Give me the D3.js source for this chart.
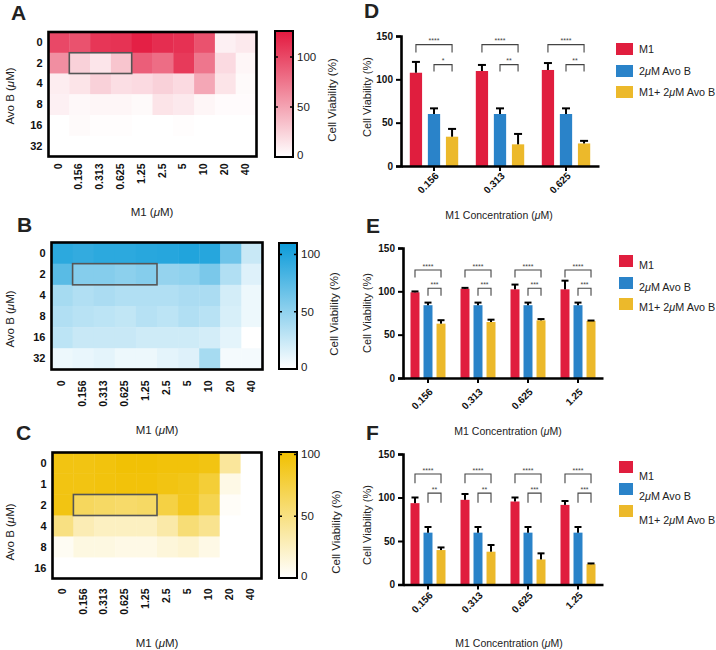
<!DOCTYPE html>
<html><head><meta charset="utf-8">
<script src="https://cdn.jsdelivr.net/npm/d3@7"></script>
<style>body{margin:0;background:#fff} text{font-family:"Liberation Sans",Arial,Helvetica,sans-serif}</style>
</head><body><svg id="c" width="716" height="650"></svg>
<script>
// ---------- DATA ----------
const heatCols = ["0","0.156","0.313","0.625","1.25","2.5","5","10","20","40"];
const rowsA = ["0","2","4","8","16","32"];
const valuesA = [
  [100, 95,110,112,122,115,113, 95,  8, 12],
  [ 62, 25, 14, 32, 88, 80,108, 75, 20,  5],
  [ 10, 15, 25, 18, 20, 25, 20, 48, 15,  3],
  [  8,  4,  5,  5,  3, 15, 12,  5,  2,  2],
  [  0,  3,  1,  1,  0,  0,  1,  0,  0,  0],
  [  0,  0,  0,  0,  0,  0,  0,  0,  0,  0]
];
const rowsB = ["0","2","4","8","16","32"];
const valuesB = [
  [ 95, 92, 95, 95, 97, 98,100, 98, 65, 25],
  [ 75, 55, 55, 52, 55, 48, 50, 60, 35, 15],
  [ 40, 35, 38, 35, 35, 35, 38, 38, 20,  8],
  [ 35, 32, 30, 28, 33, 30, 35, 32, 18,  8],
  [ 30, 25, 25, 25, 22, 22, 22, 20, 12,  0],
  [  8, 10, 12,  8,  8, 12, 15, 40,  5,  5]
];
const rowsC = ["0","1","2","4","8","16"];
const valuesC = [
  [ 95, 95, 97,100,100, 98, 98, 95, 40,  0],
  [ 95, 95, 97, 98, 98, 95, 92, 80, 10,  0],
  [ 95, 65, 62, 60, 62, 75, 90, 70,  3,  0],
  [ 50, 30, 25, 25, 25, 35, 55, 45,  0,  0],
  [  5, 12, 12, 10, 10, 15, 18, 10,  0,  0],
  [  0,  0,  0,  0,  0,  0,  0,  0,  0,  0]
];

const seriesNames = ["M1", "2\u03BCM Avo B", "M1+ 2\u03BCM Avo B"];
const barTicks = [0, 50, 100, 150];

const groupsD = ["0.156","0.313","0.625"];
const dM1 = [107.6,109.6,110.8],  dM1Err = [12.5,7,8];
const dAvo = [60,60,60],          dAvoErr = [6.5,6.5,6.5];
const dCombo = [33.8,25,26],      dComboErr = [9,12,3];
const dSigBig = ["****","****","****"], dSigSmall = ["*","**","**"];

const groupsE = ["0.156","0.313","0.625","1.25"];
const eM1 = [98.9,103,102.3,102.3], eM1Err = [1,1,5.5,10];
const eAvo = [84,84,84,84],         eAvoErr = [3,3,3,3];
const eCombo = [62.7,64.6,66.5,65.8], eComboErr = [4,2.7,1.5,0.5];
const eSigBig = ["****","****","****","****"], eSigSmall = ["***","***","***","***"];

const groupsF = ["0.156","0.313","0.625","1.25"];
const fM1 = [93.5,97.3,95.4,91.5],  fM1Err = [6.5,6.7,4.6,4.5];
const fAvo = [59.6,59.6,59.6,59.6], fAvoErr = [6.5,6.5,6.5,6.5];
const fCombo = [39.6,37.7,28.8,23.4], fComboErr = [3,7.7,7,0.8];
const fSigBig = ["****","****","****","****"], fSigSmall = ["**","**","***","***"];

const barColors = ["#E01E3E", "#2A83C9", "#ECB92B"];

// ---------- DRAW ----------
const svg = d3.select("#c");
const defs = svg.append("defs");

function mu(sel, before, after){
  sel.append("tspan").text(before);
  sel.append("tspan").attr("font-style","italic").text("\u03BC");
  sel.append("tspan").text(after);
}

function heat(cfg){
  const g = svg.append("g");
  const x = d3.scaleBand().domain(heatCols).range([cfg.x0,cfg.x1]);
  const y = d3.scaleBand().domain(cfg.rows).range([cfg.y0,cfg.y1]);
  const color = d3.scaleLinear().domain([0,cfg.max]).range(["#ffffff",cfg.hue]).clamp(true);
  cfg.rows.forEach((r,i)=>heatCols.forEach((c,j)=>{
    g.append("rect").attr("x",x(c)).attr("y",y(r))
      .attr("width",x.bandwidth()+0.4).attr("height",y.bandwidth()+0.4)
      .attr("fill",color(cfg.values[i][j]));
  }));
  const h = cfg.hl;
  g.append("rect").attr("x",x(heatCols[h[1]])).attr("y",y(cfg.rows[h[0]]))
    .attr("width",x(heatCols[h[2]])+x.bandwidth()-x(heatCols[h[1]]))
    .attr("height",y.bandwidth()).attr("fill","none").attr("stroke","#555").attr("stroke-width",1.6);
  g.append("rect").attr("x",cfg.x0).attr("y",cfg.y0).attr("width",cfg.x1-cfg.x0).attr("height",cfg.y1-cfg.y0)
    .attr("fill","none").attr("stroke","#000").attr("stroke-width",2.6);
  const ya = d3.axisLeft(y).tickSize(0).tickPadding(6);
  const yg = g.append("g").attr("transform",`translate(${cfg.x0},0)`).call(ya);
  yg.select(".domain").remove();
  yg.selectAll("text").attr("font-size",11).attr("font-weight","bold").attr("fill","#111")
    .style("font-family",'"Liberation Sans",Arial,sans-serif');
  heatCols.forEach(c=>{
    g.append("text").attr("transform",`translate(${x(c)+x.bandwidth()/2-1},${cfg.y1+cfg.colOff}) rotate(-90)`)
      .attr("text-anchor","end").attr("dy","0.35em").attr("font-size",10.5).attr("font-weight","bold")
      .attr("fill","#111").text(c);
  });
  const t1 = g.append("text").attr("x",cfg.m1x).attr("y",cfg.m1y).attr("text-anchor","middle")
    .attr("dy","0.35em").attr("font-size",11.5).attr("fill","#222");
  mu(t1,"M1 (","M)");
  const t2 = g.append("text").attr("transform",`translate(${cfg.avx},${cfg.avy}) rotate(-90)`)
    .attr("text-anchor","middle").attr("dy","0.35em").attr("font-size",11.5).attr("fill","#222");
  mu(t2,"Avo B (","M)");
  const cb = cfg.cb;
  const gid = "grad"+cfg.letter;
  const lg = defs.append("linearGradient").attr("id",gid).attr("x1",0).attr("y1",1).attr("x2",0).attr("y2",0);
  lg.append("stop").attr("offset",0).attr("stop-color","#ffffff");
  lg.append("stop").attr("offset",1).attr("stop-color",color(cfg.max));
  g.append("rect").attr("x",cb[0]).attr("y",cb[1]).attr("width",cb[2]-cb[0]).attr("height",cb[3]-cb[1])
    .attr("fill",`url(#${gid})`).attr("stroke","#000").attr("stroke-width",2);
  const cs = d3.scaleLinear().domain([0,cfg.max]).range([cb[3],cb[1]]);
  [50,100].forEach(v=>{
    g.append("line").attr("x1",cb[0]).attr("x2",cb[0]+3).attr("y1",cs(v)).attr("y2",cs(v)).attr("stroke","#000").attr("stroke-width",1.5);
    g.append("line").attr("x1",cb[2]-3).attr("x2",cb[2]+1).attr("y1",cs(v)).attr("y2",cs(v)).attr("stroke","#000").attr("stroke-width",1.5);
  });
  [0,50,100].forEach(v=>{
    g.append("text").attr("x",cb[2]+4).attr("y",v===0?cb[3]-2:cs(v)).attr("dy","0.35em")
      .attr("font-size",11.5).attr("fill","#222").text(v);
  });
  g.append("text").attr("transform",`translate(${cfg.ctx},${cfg.cty}) rotate(-90)`)
    .attr("text-anchor","middle").attr("dy","0.35em").attr("font-size",11.5).attr("fill","#222")
    .text("Cell Viability (%)");
  g.append("text").attr("x",cfg.lx).attr("y",cfg.ly).attr("font-size",21).attr("font-weight","bold")
    .attr("fill","#222").text(cfg.letter);
}

heat({letter:"A", rows:rowsA, values:valuesA, max:126, hue:"#E3193F",
  x0:48.5, x1:256.5, y0:32, y1:156.5, hl:[1,1,3], colOff:7,
  cb:[275,31,293,157], m1x:152, m1y:212, avx:10, avy:96, ctx:332, cty:100, lx:11, ly:20});
heat({letter:"B", rows:rowsB, values:valuesB, max:110, hue:"#0B9BD9",
  x0:51.5, x1:262.5, y0:242.5, y1:369.5, hl:[1,1,4], colOff:11,
  cb:[279,243,297,369], m1x:157, m1y:430, avx:10, avy:319, ctx:334, cty:314, lx:17, ly:232});
heat({letter:"C", rows:rowsC, values:valuesC, max:102, hue:"#F1C000",
  x0:52.5, x1:261.5, y0:452.5, y1:578.5, hl:[2,1,4], colOff:10,
  cb:[279,452,297,578], m1x:157, m1y:643, avx:10, avy:532, ctx:336, cty:532, lx:16, ly:440});

function bars(cfg){
  const g = svg.append("g");
  const x = d3.scaleBand().domain(cfg.groups).range([cfg.x0,cfg.x1]);
  const bw = x.bandwidth();
  const xs = d3.scaleBand().domain(seriesNames).range([(bw-cfg.span)/2,(bw+cfg.span)/2]).paddingInner(cfg.pad);
  const y = d3.scaleLinear().domain([0,150]).range([cfg.y0,cfg.y150]);
  const vals = [cfg.m1, cfg.avo, cfg.combo], errs = [cfg.m1e, cfg.avoe, cfg.comboe];
  cfg.groups.forEach((grp,i)=>{
    seriesNames.forEach((s,k)=>{
      const bx = x(grp)+xs(s), v = vals[k][i], e = errs[k][i];
      g.append("rect").attr("x",bx).attr("y",y(v)).attr("width",xs.bandwidth()).attr("height",y(0)-y(v))
        .attr("fill",barColors[k]);
      const cx = bx+xs.bandwidth()/2;
      g.append("line").attr("x1",cx).attr("x2",cx).attr("y1",y(v)).attr("y2",y(v+e)).attr("stroke","#000").attr("stroke-width",2);
      g.append("line").attr("x1",cx-cfg.cap).attr("x2",cx+cfg.cap).attr("y1",y(v+e)).attr("y2",y(v+e)).attr("stroke","#000").attr("stroke-width",2);
    });
    const c0 = x(grp)+xs(seriesNames[0])+xs.bandwidth()/2;
    const c1 = x(grp)+xs(seriesNames[1])+xs.bandwidth()/2;
    const c2 = x(grp)+xs(seriesNames[2])+xs.bandwidth()/2;
    [[c0,c2,cfg.big,cfg.sigBig[i]],[c1,c2,cfg.small,cfg.sigSmall[i]]].forEach(([a,b,lv,s])=>{
      g.append("path").attr("d",`M${a},${y(lv[1])}V${y(lv[0])}H${b}V${y(lv[1])}`)
        .attr("fill","none").attr("stroke","#444").attr("stroke-width",1.1);
      g.append("text").attr("x",(a+b)/2).attr("y",y(lv[0])-1.5).attr("text-anchor","middle")
        .attr("font-size",7).attr("fill","#444").text(s);
    });
  });
  const ya = d3.axisLeft(y).tickValues(barTicks).tickSize(5).tickPadding(3).tickFormat(d3.format("d"));
  const yg = g.append("g").attr("transform",`translate(${cfg.x0},0)`).call(ya);
  yg.select(".domain").attr("stroke-width",2.6);
  yg.selectAll(".tick line").attr("stroke-width",2);
  yg.selectAll("text").attr("font-size",10).attr("font-weight","bold").attr("fill","#111")
    .style("font-family",'"Liberation Sans",Arial,sans-serif');
  const xa = d3.axisBottom(x).tickSize(5).tickSizeOuter(0).tickFormat("");
  const xg = g.append("g").attr("transform",`translate(0,${cfg.y0})`).call(xa);
  xg.select(".domain").attr("stroke-width",2.6);
  xg.selectAll(".tick line").attr("stroke-width",2);
  cfg.groups.forEach(grp=>{
    g.append("text").attr("transform",`translate(${x(grp)+bw/2+3},${cfg.y0+cfg.tOff}) rotate(-45)`)
      .attr("text-anchor","end").attr("dy","0.35em").attr("font-size",10).attr("font-weight","bold")
      .attr("fill","#111").text(grp);
  });
  g.append("text").attr("transform",`translate(${cfg.ytx},${cfg.yty}) rotate(-90)`)
    .attr("text-anchor","middle").attr("dy","0.35em").attr("font-size",11).attr("fill","#222")
    .text("Cell Viability (%)");
  const xt = g.append("text").attr("x",cfg.xtx).attr("y",cfg.xty).attr("text-anchor","middle")
    .attr("dy","0.35em").attr("font-size",10.5).attr("fill","#222");
  mu(xt,"M1 Concentration (","M)");
  seriesNames.forEach((s,k)=>{
    g.append("rect").attr("x",cfg.lgx).attr("y",cfg.lgY[k]).attr("width",cfg.lgw).attr("height",12).attr("fill",barColors[k]);
    const t = g.append("text").attr("x",cfg.lgx+cfg.lgw+6).attr("y",cfg.lgT[k]).attr("dy","0.35em")
      .attr("font-size",10.8).attr("fill","#222");
    if(s.indexOf("\u03BC")>=0){
      const parts = s.split("\u03BC");
      mu(t,parts[0],parts[1]);
    } else t.text(s);
  });
  g.append("text").attr("x",cfg.lx).attr("y",cfg.ly).attr("font-size",21).attr("font-weight","bold")
    .attr("fill","#222").text(cfg.letter);
}

bars({letter:"D", groups:groupsD, m1:dM1, m1e:dM1Err, avo:dAvo, avoe:dAvoErr, combo:dCombo, comboe:dComboErr,
  sigBig:dSigBig, sigSmall:dSigSmall, big:[140,131], small:[117,109],
  x0:401, x1:599, y0:166, y150:36, span:48.4, pad:0.32, cap:4,
  tOff:8, ytx:367, yty:97, xtx:499, xty:215,
  lgx:616, lgw:17, lgY:[43,65,86], lgT:[49,71,92], lx:364, ly:18});
bars({letter:"E", groups:groupsE, m1:eM1, m1e:eM1Err, avo:eAvo, avoe:eAvoErr, combo:eCombo, comboe:eComboErr,
  sigBig:eSigBig, sigSmall:eSigSmall, big:[124.6,116], small:[103.5,95],
  x0:403, x1:603, y0:378, y150:248, span:35, pad:0.31, cap:3.5,
  tOff:12, ytx:367, yty:313, xtx:508, xty:431,
  lgx:619, lgw:14, lgY:[255,277,298], lgT:[265,287,307], lx:366, ly:233});
bars({letter:"F", groups:groupsF, m1:fM1, m1e:fM1Err, avo:fAvo, avoe:fAvoErr, combo:fCombo, comboe:fComboErr,
  sigBig:fSigBig, sigSmall:fSigSmall, big:[127,116.5], small:[105,94],
  x0:403, x1:603, y0:584.5, y150:454, span:35, pad:0.31, cap:3.5,
  tOff:9, ytx:367, yty:525, xtx:509, xty:643,
  lgx:619, lgw:14, lgY:[461,483,505], lgT:[476,496,520], lx:366, ly:440});
</script>
</body></html>
